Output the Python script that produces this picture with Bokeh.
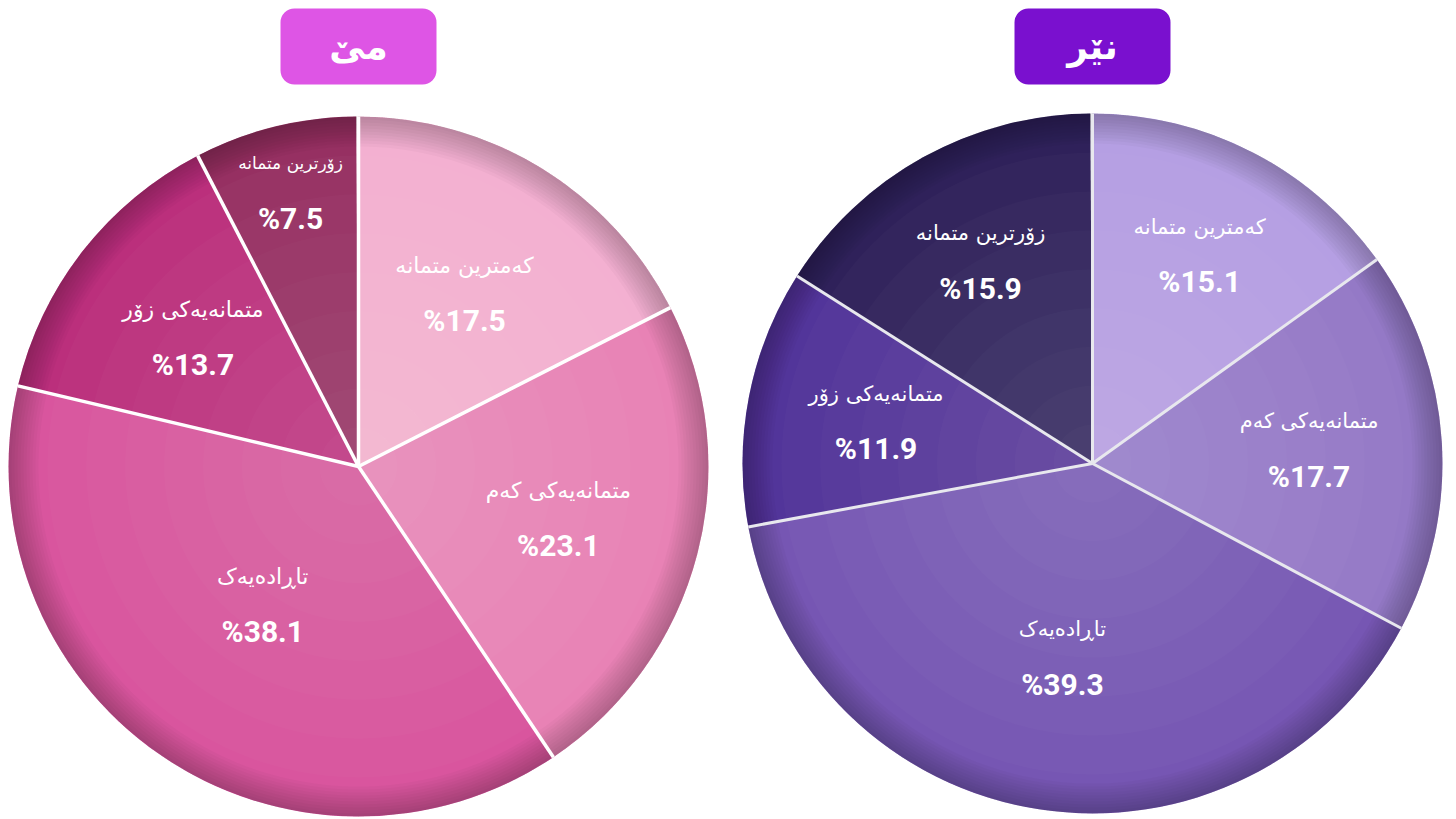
import math
from bokeh.plotting import figure
from bokeh.models import ColumnDataSource, Range1d
from bokeh.core.properties import value
from bokeh.embed import file_html
from bokeh.resources import INLINE

# ---------------- data ----------------
CATEGORIES = ["کەمترین متمانە", "متمانەیەکی کەم", "تاڕادەیەک", "متمانەیەکی زۆر", "زۆرترین متمانە"]
FEMALE = [17.5, 23.1, 38.1, 13.7, 7.5]
MALE = [15.1, 17.7, 39.3, 11.9, 15.9]
TITLES = ["مێ", "نێر"]

# ---------------- styles / layout ----------------
W, H = 1456, 819
FEMALE_COLORS = ["#f3b0d1", "#e882b5", "#d9559e", "#bb2f7c", "#963062"]
MALE_COLORS = ["#b59fe3", "#9479c6", "#7656b3", "#52359a", "#2f215a"]
BADGE_COLORS = ["#de55e5", "#7a10cf"]
R = 350
CENTERS = [(358, 353), (1092, 356)]
LABEL_R = [[0.58, 0.59, 0.48, 0.60, 0.81], [0.67, 0.62, 0.56, 0.63, 0.66]]
LABEL_SIZE = [["22px", "22px", "22px", "22px", "17px"], ["21px"] * 5]
SEP_COLORS = ["#ffffff", "#e8e8ee"]
SEP_WIDTH = [3.5, 3]
AR_FONT = "DejaVu Sans"
NUM_FONT = "Roboto"

p = figure(width=W, height=H, output_backend="svg", toolbar_location=None,
           x_range=Range1d(0, W), y_range=Range1d(0, H), min_border=0)
p.axis.visible = False
p.grid.visible = False
p.outline_line_color = None
p.background_fill_color = "#ffffff"
p.border_fill_color = "#ffffff"

for idx, (vals, colors) in enumerate([(FEMALE, FEMALE_COLORS), (MALE, MALE_COLORS)]):
    cx, cy = CENTERS[idx]
    total = 100.0
    cum = [0.0]
    for v in vals:
        cum.append(cum[-1] + v)
    starts = [math.pi / 2 - 2 * math.pi * c / total for c in cum[:-1]]
    ends = [math.pi / 2 - 2 * math.pi * c / total for c in cum[1:]]
    src = ColumnDataSource(dict(start=starts, end=ends, color=colors))
    p.wedge(x=cx, y=cy, radius=R, start_angle="start", end_angle="end",
            direction="clock", fill_color="color", line_color=None, source=src)

    # soft lighter centre
    for k in range(1, 9):
        p.circle(x=cx, y=cy, radius=R * k / 9.0, fill_color="#ffffff",
                 fill_alpha=0.018, line_color=None)
    # darker rim
    for k in range(1, 11):
        p.annulus(x=cx, y=cy, inner_radius=R - 3 * k, outer_radius=R,
                  fill_color="#000000", fill_alpha=0.024, line_color=None)

    # separators
    angs = [math.pi / 2 - 2 * math.pi * c / total for c in cum[:-1]]
    p.segment(x0=[cx] * len(angs), y0=[cy] * len(angs),
              x1=[cx + R * math.cos(a) for a in angs],
              y1=[cy + R * math.sin(a) for a in angs],
              line_color=SEP_COLORS[idx], line_width=SEP_WIDTH[idx])

    # labels
    mids = [math.pi / 2 - 2 * math.pi * (cum[i] + vals[i] / 2) / total for i in range(len(vals))]
    lx = [cx + LABEL_R[idx][i] * R * math.cos(m) for i, m in enumerate(mids)]
    ly = [cy + LABEL_R[idx][i] * R * math.sin(m) for i, m in enumerate(mids)]
    lsrc = ColumnDataSource(dict(x=lx, y=[y + 28 for y in ly], t=CATEGORIES,
                                 fs=LABEL_SIZE[idx]))
    p.text(x="x", y="y", text="t", source=lsrc, text_color="#ffffff",
           text_font=value(AR_FONT), text_font_size="fs",
           text_align="center", text_baseline="middle")
    psrc = ColumnDataSource(dict(x=lx, y=[y - 27 for y in ly], t=[f"%{v}" for v in vals]))
    p.text(x="x", y="y", text="t", source=psrc, text_color="#ffffff",
           text_font=value(NUM_FONT), text_font_style="bold", text_font_size="30px",
           text_align="center", text_baseline="middle")

    # title badge
    bw = 156
    p.quad(left=cx - bw / 2, right=cx + bw / 2, top=H - 8, bottom=H - 84,
           fill_color=BADGE_COLORS[idx], line_color=None, border_radius=14)
    p.text(x=[cx], y=[H - 46], text=[TITLES[idx]], text_color="#ffffff",
           text_font=value(AR_FONT), text_font_style="bold", text_font_size="36px",
           text_align="center", text_baseline="middle")

open("out.html", "w").write(file_html(p, INLINE))
